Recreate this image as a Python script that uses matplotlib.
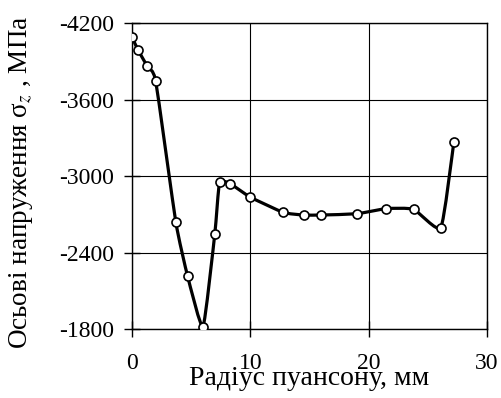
import matplotlib.pyplot as plt
from matplotlib.path import Path
from matplotlib.patches import PathPatch

plt.rcParams['font.family'] = ['Liberation Serif', 'DejaVu Serif']
plt.rcParams['mathtext.fontset'] = 'stix'
plt.rcParams['axes.unicode_minus'] = False

# punch radius (mm) and axial stress (MPa)
radius = [0.0, 0.5, 1.3, 2.0, 3.7, 4.7, 6.0, 7.0, 7.4, 8.3, 10.0,
          12.8, 14.5, 16.0, 19.0, 21.5, 23.8, 26.1, 27.2]
stress = [-4090, -3990, -3860, -3745, -2640, -2215, -1820, -2550, -2950,
          -2940, -2835, -2715, -2695, -2695, -2705, -2745, -2740, -2595,
          -3265]

xticks = [0, 10, 20, 30]
yticks = [-4200, -3600, -3000, -2400, -1800]


def smooth_path(xs, ys, k=0.08):
    # smoothed line as cubic Bezier segments
    verts = [(xs[0], ys[0])]
    codes = [Path.MOVETO]
    n = len(xs)
    for i in range(n - 1):
        x0, y0 = (xs[i - 1], ys[i - 1]) if i > 0 else (xs[i], ys[i])
        x1, y1 = xs[i], ys[i]
        x2, y2 = xs[i + 1], ys[i + 1]
        x3, y3 = (xs[i + 2], ys[i + 2]) if i + 2 < n else (x2, y2)
        c1 = (x1 + (x2 - x0) * k, y1 + (y2 - y0) * k)
        c2 = (x2 - (x3 - x1) * k, y2 - (y3 - y1) * k)
        verts += [c1, c2, (x2, y2)]
        codes += [Path.CURVE4] * 3
    return Path(verts, codes)


fig = plt.figure(figsize=(5.02, 3.98), dpi=100)
ax = fig.add_axes([0.263, 0.173, 0.707, 0.769])

ax.add_patch(PathPatch(smooth_path(radius, stress), facecolor='none',
                       edgecolor='black', lw=2.3, zorder=3))
ax.plot(radius, stress, linestyle='none', marker='o', markersize=6.5,
        markerfacecolor='white', markeredgecolor='black',
        markeredgewidth=1.2, zorder=4)

ax.set_xlim(0, 30)
ax.set_ylim(-1800, -4200)
ax.set_xticks(xticks)
ax.set_yticks(yticks)
ax.grid(True, color='black', linewidth=0.8)
ax.set_axisbelow(True)
for s in ax.spines.values():
    s.set_linewidth(1.0)
ax.tick_params(axis='both', direction='inout', length=12, width=1.0,
               labelsize=17, colors='black')
ax.tick_params(axis='x', pad=11)
ax.tick_params(axis='y', pad=7)

ax.set_xlabel('Радіус пуансону, мм', fontsize=20)
ax.xaxis.set_label_coords(0.5, -0.16)
ax.xaxis.label.set_va('center')
ax.set_ylabel('Осьові напруження σ$_z$ , МПа', fontsize=19.5)
ax.yaxis.set_label_coords(-0.313, 0.48)
ax.yaxis.label.set_va('center')

fig.savefig('out.png', dpi=100)
